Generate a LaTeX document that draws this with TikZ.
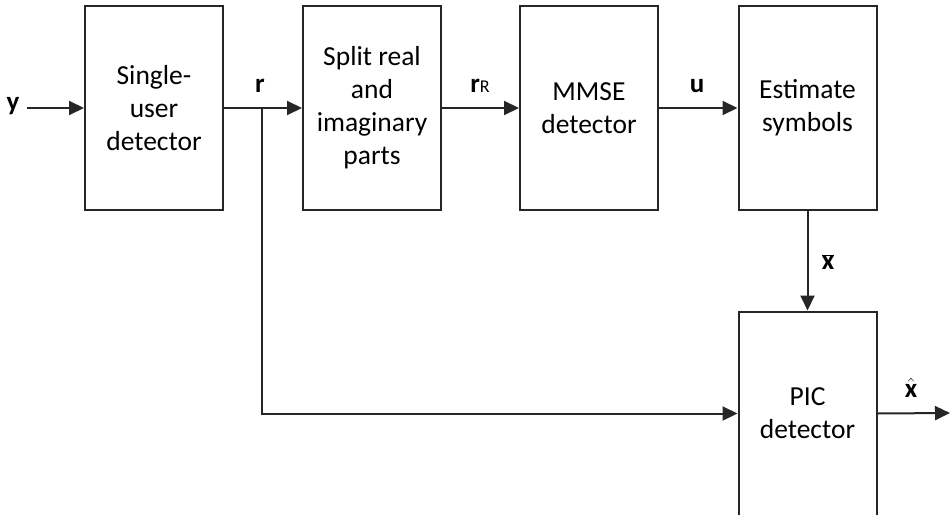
\documentclass[tikz,border=0pt]{standalone}
\usepackage{fontspec}
\setmainfont{Carlito}
\usetikzlibrary{arrows.meta}
\begin{document}
\begin{tikzpicture}[x=1pt,y=-1pt,
  blk/.style={draw=black!85, line width=2pt, minimum width=138pt, minimum height=204pt,
    inner sep=0pt, align=center, font=\fontsize{27.5}{33}\selectfont},
  lbl/.style={font=\fontsize{27}{33}\selectfont\bfseries, inner sep=0pt},
  conn/.style={line width=2pt, draw=black!85, -{Triangle[length=15pt,width=14pt]}},
  wire/.style={line width=2pt, draw=black!85}]
\useasboundingbox (0,0) rectangle (950,514);
\node[blk] (sud) at (154,108) {Single-\\user\\detector};
\node[blk] (split) at (372,108) {Split real\\and\\imaginary\\parts};
\node[blk] (mmse) at (589,108) {MMSE\\detector};
\node[blk] (est) at (807.5,108) {Estimate\\symbols};
\node[blk] (pic) at (807.5,413.5) {PIC\\detector};
\node[lbl] (y) at (13,106) {y};
\coordinate (ys) at (27,108);
\coordinate (br) at (262,108);
\coordinate (out) at (950,413);
\draw[conn] (ys) -- (sud.west);
\draw[conn] (sud.east) -- (split.west);
\draw[conn] (split.east) -- (mmse.west);
\draw[conn] (mmse.east) -- (est.west);
\draw[conn] (est.south) -- (pic.north);
\draw[conn] (br) |- (pic.west);
\draw[conn] (pic.east) -- (out);
\node[lbl] (rl) at (260,86) {r};
\node[lbl] (rrl) at (480,86) {r\fontsize{18}{20}\selectfont\mdseries R};
\node[lbl] (ul) at (697,86) {u};
\node[lbl] (xbl) at (828,262) {$\overline{\hbox{\fontsize{27}{33}\selectfont\bfseries x}}$};
\node[lbl] (xhl) at (911,388) {$\hat{\hbox{\fontsize{27}{33}\selectfont\bfseries x}}$};
\end{tikzpicture}
\end{document}
